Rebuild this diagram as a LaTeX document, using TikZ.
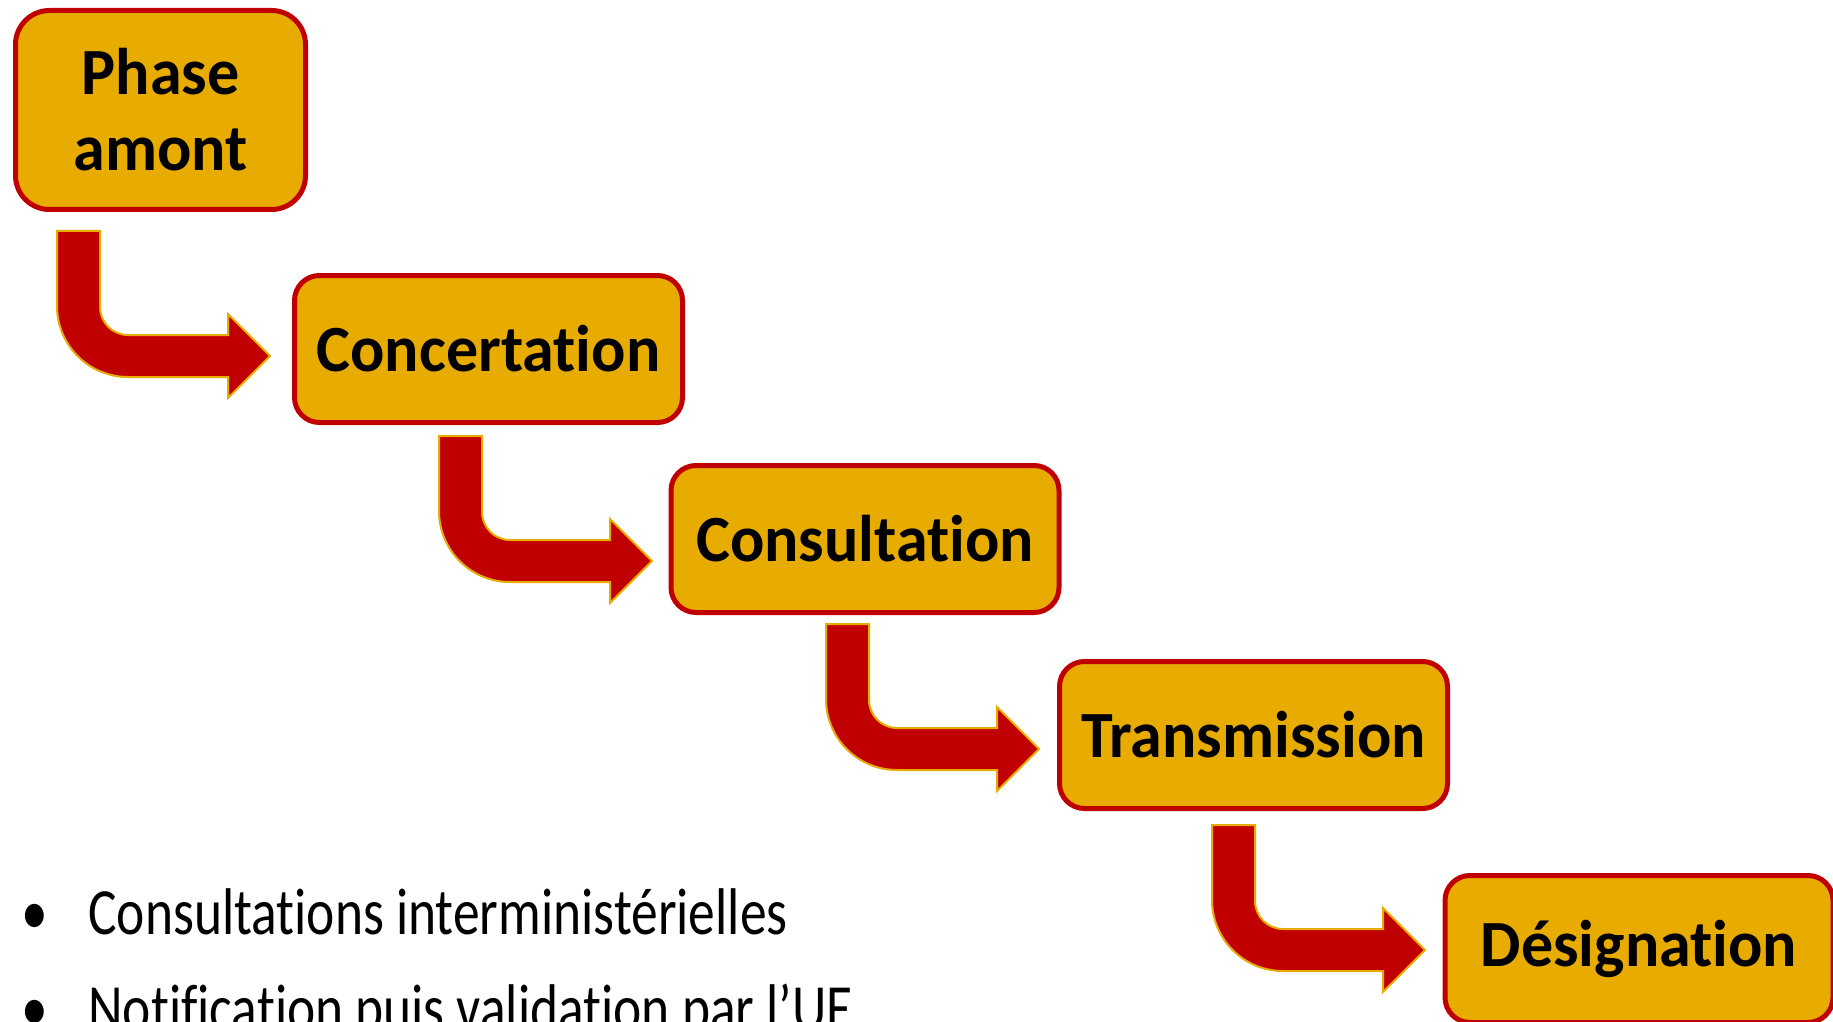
\documentclass[tikz,border=0pt]{standalone}
\usepackage{fontspec}
\setmainfont{Carlito}[Ligatures={NoCommon,NoContextual}, RawFeature={-liga;-clig;-calt;-dlig}, BoldFeatures={FakeStretch=0.97}]
\newfontfamily\listfont{Carlito}[Ligatures={NoCommon,NoContextual}, RawFeature={-liga;-clig;-calt;-dlig}, FakeStretch=0.81]
\definecolor{boxgold}{RGB}{232,171,0}
\definecolor{boxred}{RGB}{192,0,0}
\newcommand{\bentarrow}[1]{%
	\draw[arrowshape] (#1) -- ++(43,0) -- ++(0,-76)
		arc[start angle=180, end angle=270, radius=14pt] -- ++(100,0)
		-- ++(0,21) -- ++(42,-42) -- ++(-42,-42) -- ++(0,21) -- ++(-100,0)
		arc[start angle=270, end angle=180, radius=35.5pt] -- cycle;}

\begin{document}
\begin{tikzpicture}[x=0.5pt, y=0.5pt,
	stage/.style={draw=boxred, fill=boxgold, line width=2.5pt, rounded corners=12.5pt,
		minimum width=194pt, minimum height=73.5pt, inner sep=0pt, align=center,
		font=\fontsize{33}{38}\selectfont\bfseries},
	arrowshape/.style={fill=boxred, draw=boxgold, line width=1pt},
	item/.style={inner sep=0pt, font=\listfont\fontsize{33}{38}\selectfont}]
	\clip (0,0) rectangle (1833,-1022);
	\node[stage, minimum width=145pt, minimum height=99.5pt, rounded corners=17pt] (amont) at (160.5,-110) {Phase\\amont};
	\node[stage] (concert) at (488.5,-349) {Concertation};
	\node[stage] (consult) at (865,-539) {Consultation};
	\node[stage] (transm) at (1253.5,-735) {Transmission};
	\node[stage] (design) at (1639,-949) {Désignation};
	\coordinate (a1) at (57,-231);
	\coordinate (a2) at (439,-436);
	\coordinate (a3) at (826,-624);
	\coordinate (a4) at (1212,-825);
	\bentarrow{a1}
	\bentarrow{a2}
	\bentarrow{a3}
	\bentarrow{a4}
	\node[item, anchor=base] (dot1) at (35,-934) {•};
	\node[item, anchor=base west] (txt1) at (88,-934) {Consultations interministérielles};
	\node[item, anchor=base] (dot2) at (35,-1030) {•};
	\node[item, anchor=base west] (txt2) at (88,-1030) {Notification puis validation par l’UE};
\end{tikzpicture}
\end{document}
